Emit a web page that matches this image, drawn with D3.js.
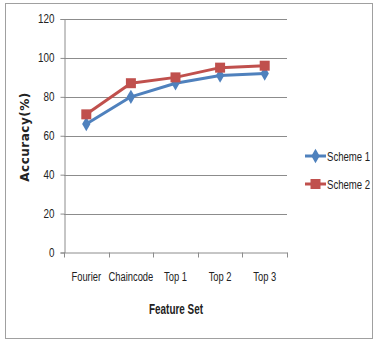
<!DOCTYPE html>
<html><head><meta charset="utf-8">
<script src="https://cdn.jsdelivr.net/npm/d3@7"></script>
<style>
body{margin:0;background:#fff;}
svg{display:block;}
text{font-family:"Liberation Sans",Arial,sans-serif;fill:#222;}
</style></head><body>
<svg id="c" width="375" height="340"></svg>
<script>
const categories = ["Fourier","Chaincode","Top 1","Top 2","Top 3"];
const scheme1 = [66, 80, 87, 91, 92];
const scheme2 = [71, 87, 90, 95, 96];
const seriesNames = ["Scheme 1","Scheme 2"];
const yTicks = [0,20,40,60,80,100,120];

const svg = d3.select("#c");
svg.append("rect").attr("x",5.5).attr("y",3.5).attr("width",367).attr("height",335)
  .attr("fill","#fff").attr("stroke","#a0a0a0");

function condense(sel, f){
  sel.each(function(){
    const w = this.getComputedTextLength();
    d3.select(this).attr("textLength", w*f).attr("lengthAdjust","spacingAndGlyphs");
  });
}

const x = d3.scaleBand().domain(categories).range([64,287]);
const y = d3.scaleLinear().domain([0,120]).range([252.5,19]);

// gridlines
svg.append("g").selectAll("line").data(yTicks.filter(d=>d>0)).join("line")
  .attr("x1",64).attr("x2",287).attr("y1",d=>Math.round(y(d))+0.5).attr("y2",d=>Math.round(y(d))+0.5)
  .attr("stroke","#8c8c8c").attr("stroke-width",1);

// y axis
const ya = svg.append("g").attr("transform","translate(64.5,0)")
  .call(d3.axisLeft(y).tickValues(yTicks).tickSize(4).tickPadding(6).tickFormat(d3.format("d")));
ya.select(".domain").attr("stroke","#8c8c8c");
ya.selectAll(".tick line").attr("stroke","#8c8c8c");
ya.selectAll(".tick text").attr("font-size",12).attr("fill","#222")
  .style("font-family","'Liberation Sans',Arial,sans-serif");
condense(ya.selectAll(".tick text"), 0.82);

// x axis
const xa = svg.append("g").attr("transform","translate(0,252.5)")
  .call(d3.axisBottom(x).tickSize(0).tickPadding(20));
xa.select(".domain").attr("stroke","#8c8c8c");
xa.selectAll(".tick text").attr("font-size",12).attr("fill","#222")
  .style("font-family","'Liberation Sans',Arial,sans-serif");
condense(xa.selectAll(".tick text"), 0.78);
// boundary ticks
const bounds = categories.map(c=>x(c)).concat([x.range()[1]]);
svg.append("g").selectAll("line").data(bounds).join("line")
  .attr("x1",d=>Math.round(d)+0.5).attr("x2",d=>Math.round(d)+0.5)
  .attr("y1",252.5).attr("y2",257.5).attr("stroke","#8c8c8c");

// lines
const cx = c => x(c)+x.bandwidth()/2;
const line = d3.line().x((d,i)=>cx(categories[i])).y(d=>y(d));
const colors = ["#4F81BD","#C0504D"];
[scheme1, scheme2].forEach((s,k)=>{
  svg.append("path").datum(s).attr("d",line).attr("fill","none")
    .attr("stroke",colors[k]).attr("stroke-width",3).attr("stroke-linejoin","round");
  const sym = k===0 ? d3.symbol().type(d3.symbolDiamond).size(60) : d3.symbol().type(d3.symbolSquare).size(100);
  svg.append("g").selectAll("path").data(s).join("path")
    .attr("transform",(d,i)=>`translate(${cx(categories[i])},${y(d)})`)
    .attr("d",sym).attr("fill",colors[k]);
});

// axis titles
const xt = svg.append("text").attr("x",176).attr("y",314).attr("text-anchor","middle")
  .attr("font-size",15).attr("font-weight","bold").text("Feature Set");
condense(xt, 0.66);
svg.append("text").attr("transform","translate(29,137) rotate(-90)").attr("text-anchor","middle")
  .attr("font-size",12).attr("font-weight","bold")
  .style("font-family","'DejaVu Sans',sans-serif").style("letter-spacing","0.5px").text("Accuracy(%)");

// legend
const lg = svg.append("g");
seriesNames.forEach((n,k)=>{
  const ly = 156 + k*28;
  lg.append("line").attr("x1",305).attr("x2",326).attr("y1",ly).attr("y2",ly)
    .attr("stroke",colors[k]).attr("stroke-width",3);
  const sym = k===0 ? d3.symbol().type(d3.symbolDiamond).size(60) : d3.symbol().type(d3.symbolSquare).size(100);
  lg.append("path").attr("transform",`translate(315.5,${ly})`).attr("d",sym).attr("fill",colors[k]);
  lg.append("text").attr("transform",`translate(327,${ly+4.5}) scale(0.8,1)`)
    .attr("font-size",12).text(n);
});
</script></body></html>
